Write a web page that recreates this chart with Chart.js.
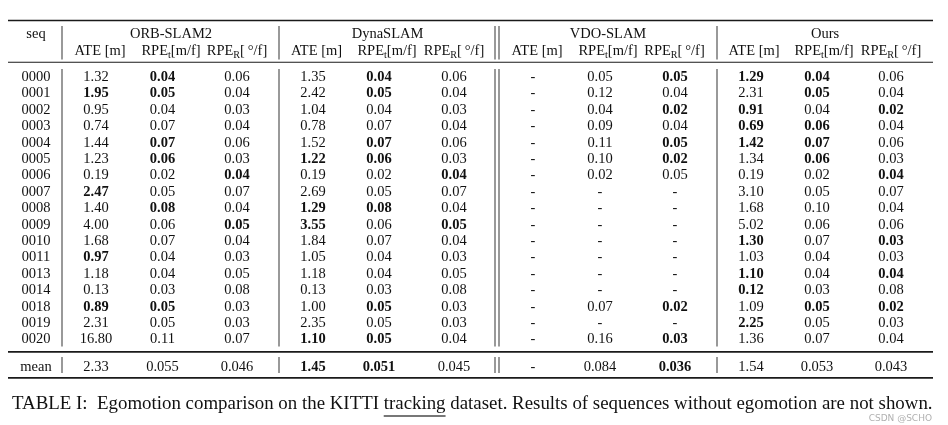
<!DOCTYPE html>
<html>
<head>
<meta charset="utf-8">
<script src="https://cdn.jsdelivr.net/npm/chart.js@4.4.0/dist/chart.umd.min.js"></script>
<style>
  html, body { margin: 0; padding: 0; background: #fff; }
  #wrap { width: 948px; height: 425px; position: relative; }
</style>
</head>
<body>
<div id="wrap"><canvas id="table"></canvas></div>
<script>
const SEQ = ['0000', '0001', '0002', '0003', '0004', '0005', '0006', '0007', '0008',
  '0009', '0010', '0011', '0013', '0014', '0018', '0019', '0020'];
const METHODS = ['ORB-SLAM2', 'DynaSLAM', 'VDO-SLAM', 'Ours'];

const ORB_ATE = ['1.32', '1.95', '0.95', '0.74', '1.44', '1.23', '0.19', '2.47', '1.40', '4.00', '1.68', '0.97', '1.18', '0.13', '0.89', '2.31', '16.80'];
const ORB_RPE_T = ['0.04', '0.05', '0.04', '0.07', '0.07', '0.06', '0.02', '0.05', '0.08', '0.06', '0.07', '0.04', '0.04', '0.03', '0.05', '0.05', '0.11'];
const ORB_RPE_R = ['0.06', '0.04', '0.03', '0.04', '0.06', '0.03', '0.04', '0.07', '0.04', '0.05', '0.04', '0.03', '0.05', '0.08', '0.03', '0.03', '0.07'];
const ORB_MEAN = ['2.33', '0.055', '0.046'];

const DYNA_ATE = ['1.35', '2.42', '1.04', '0.78', '1.52', '1.22', '0.19', '2.69', '1.29', '3.55', '1.84', '1.05', '1.18', '0.13', '1.00', '2.35', '1.10'];
const DYNA_RPE_T = ['0.04', '0.05', '0.04', '0.07', '0.07', '0.06', '0.02', '0.05', '0.08', '0.06', '0.07', '0.04', '0.04', '0.03', '0.05', '0.05', '0.05'];
const DYNA_RPE_R = ['0.06', '0.04', '0.03', '0.04', '0.06', '0.03', '0.04', '0.07', '0.04', '0.05', '0.04', '0.03', '0.05', '0.08', '0.03', '0.03', '0.04'];
const DYNA_MEAN = ['1.45', '0.051', '0.045'];

const VDO_ATE = ['-', '-', '-', '-', '-', '-', '-', '-', '-', '-', '-', '-', '-', '-', '-', '-', '-'];
const VDO_RPE_T = ['0.05', '0.12', '0.04', '0.09', '0.11', '0.10', '0.02', '-', '-', '-', '-', '-', '-', '-', '0.07', '-', '0.16'];
const VDO_RPE_R = ['0.05', '0.04', '0.02', '0.04', '0.05', '0.02', '0.05', '-', '-', '-', '-', '-', '-', '-', '0.02', '-', '0.03'];
const VDO_MEAN = ['-', '0.084', '0.036'];

const OURS_ATE = ['1.29', '2.31', '0.91', '0.69', '1.42', '1.34', '0.19', '3.10', '1.68', '5.02', '1.30', '1.03', '1.10', '0.12', '1.09', '2.25', '1.36'];
const OURS_RPE_T = ['0.04', '0.05', '0.04', '0.06', '0.07', '0.06', '0.02', '0.05', '0.10', '0.06', '0.07', '0.04', '0.04', '0.03', '0.05', '0.05', '0.07'];
const OURS_RPE_R = ['0.06', '0.04', '0.02', '0.04', '0.06', '0.03', '0.04', '0.07', '0.04', '0.06', '0.03', '0.03', '0.04', '0.08', '0.02', '0.03', '0.04'];
const OURS_MEAN = ['1.54', '0.053', '0.043'];

// bold cells: row indices per column, 17 = mean row
const ORB_BOLD = [[1, 7, 11, 14], [0, 1, 4, 5, 8, 14], [6, 9]];
const DYNA_BOLD = [[5, 8, 9, 16, 17], [0, 1, 4, 5, 8, 14, 16, 17], [6, 9]];
const VDO_BOLD = [[], [], [0, 2, 4, 5, 14, 16, 17]];
const OURS_BOLD = [[0, 2, 3, 4, 10, 12, 13, 15], [0, 1, 3, 4, 5, 14], [2, 6, 10, 12, 14]];

const CAPTION = 'TABLE I:  Egomotion comparison on the KITTI tracking dataset. Results of sequences without egomotion are not shown.';

const COLUMNS = [
  [ORB_ATE, ORB_RPE_T, ORB_RPE_R, ORB_MEAN, ORB_BOLD],
  [DYNA_ATE, DYNA_RPE_T, DYNA_RPE_R, DYNA_MEAN, DYNA_BOLD],
  [VDO_ATE, VDO_RPE_T, VDO_RPE_R, VDO_MEAN, VDO_BOLD],
  [OURS_ATE, OURS_RPE_T, OURS_RPE_R, OURS_MEAN, OURS_BOLD],
];

// --- layout (pixel units of the hidden linear scales) ---
const W = 948, H = 425;
const SERIF = '"Liberation Serif", "DejaVu Serif", serif';
const FS = 14.5;
const ROW_Y0 = 81, ROW_DY = 16.4, MEAN_Y = 370.5, HEAD1_Y = 38, HEAD2_Y = 55;
const SEQ_X = 36;
const GROUP_X = [171, 387.5, 608, 825];
const COL_X = [[96, 162.5, 237], [313, 379, 454], [533, 600, 675], [751, 817, 891]];
const HEAD_X = [[100, 171, 237], [316.5, 387, 454], [537, 608, 674.5], [754, 824, 891]];
const VLINES = [62, 279, 495, 499, 717];
const VSEGS = [[26, 59.5], [69, 346.5], [357, 373]];
const HEADERS = [
  [{ t: 'ATE [m]' }],
  [{ t: 'RPE' }, { t: 't', sub: true }, { t: '[m/f]' }],
  [{ t: 'RPE' }, { t: 'R', sub: true }, { t: '[\u2009\u00b0/f]' }],
];

function drawRich(ctx, parts, cx, y) {
  let w = 0;
  for (const p of parts) {
    ctx.font = (p.sub ? FS * 0.7 : FS) + 'px ' + SERIF;
    p.w = ctx.measureText(p.t).width;
    w += p.w;
  }
  let x = cx - w / 2;
  ctx.textAlign = 'left';
  for (const p of parts) {
    ctx.font = (p.sub ? FS * 0.7 : FS) + 'px ' + SERIF;
    ctx.fillText(p.t, x, y + (p.sub ? 3 : 0));
    x += p.w;
  }
}

const tablePlugin = {
  id: 'tablePlugin',
  afterDraw(chart) {
    const ctx = chart.ctx;
    const sx = chart.scales.x, sy = chart.scales.y;
    const px = (v) => sx.getPixelForValue(v);
    const py = (v) => sy.getPixelForValue(v);
    ctx.save();
    ctx.fillStyle = '#111';
    ctx.textBaseline = 'alphabetic';

    // horizontal rules
    ctx.strokeStyle = '#1a1a1a';
    const hrule = (y, lw) => {
      ctx.lineWidth = lw;
      ctx.beginPath();
      ctx.moveTo(px(8), py(y));
      ctx.lineTo(px(933), py(y));
      ctx.stroke();
    };
    hrule(20.5, 1.6);
    hrule(62.3, 1.1);
    hrule(351.8, 1.8);
    hrule(377.8, 1.8);

    // vertical separators
    ctx.strokeStyle = '#555';
    ctx.lineWidth = 1.2;
    for (const x of VLINES) {
      for (const [a, b] of VSEGS) {
        ctx.beginPath();
        ctx.moveTo(px(x), py(a));
        ctx.lineTo(px(x), py(b));
        ctx.stroke();
      }
    }

    // header
    ctx.textAlign = 'center';
    ctx.font = FS + 'px ' + SERIF;
    ctx.fillText('seq', px(SEQ_X), py(HEAD1_Y));
    METHODS.forEach((m, g) => {
      ctx.textAlign = 'center';
      ctx.font = FS + 'px ' + SERIF;
      ctx.fillText(m, px(GROUP_X[g]), py(HEAD1_Y - 0.5));
      HEADERS.forEach((parts, c) => drawRich(ctx, parts, px(HEAD_X[g][c]), py(HEAD2_Y)));
    });

    // body
    ctx.textAlign = 'center';
    SEQ.forEach((s, r) => {
      ctx.font = FS + 'px ' + SERIF;
      ctx.fillText(s, px(SEQ_X), py(ROW_Y0 + r * ROW_DY));
    });
    ctx.font = FS + 'px ' + SERIF;
    ctx.fillText('mean', px(SEQ_X), py(MEAN_Y));
    COLUMNS.forEach((col, g) => {
      const bold = col[4];
      for (let c = 0; c < 3; c++) {
        const vals = col[c];
        vals.forEach((v, r) => {
          ctx.font = (bold[c].includes(r) ? 'bold ' : '') + FS + 'px ' + SERIF;
          ctx.fillText(v, px(COL_X[g][c]), py(ROW_Y0 + r * ROW_DY));
        });
        ctx.font = (bold[c].includes(17) ? 'bold ' : '') + FS + 'px ' + SERIF;
        ctx.fillText(col[3][c], px(COL_X[g][c]), py(MEAN_Y));
      }
    });

    // caption, fitted to the table width
    ctx.textAlign = 'left';
    ctx.font = '17px ' + SERIF;
    const cw = ctx.measureText(CAPTION).width;
    const cfs = 17 * (933 - 12) / cw;
    ctx.font = cfs + 'px ' + SERIF;
    ctx.fillText(CAPTION, px(12), py(409));
    const pre = CAPTION.slice(0, CAPTION.indexOf('tracking'));
    const ux0 = 12 + ctx.measureText(pre).width;
    const uw = ctx.measureText('tracking').width;
    ctx.strokeStyle = '#777';
    ctx.lineWidth = 2;
    ctx.beginPath();
    ctx.moveTo(px(ux0), py(416));
    ctx.lineTo(px(ux0 + uw), py(416));
    ctx.stroke();

    // watermark
    ctx.textAlign = 'right';
    ctx.fillStyle = '#b0b0b0';
    ctx.font = '9px "DejaVu Sans", sans-serif';
    ctx.fillText('CSDN @SCHO', px(932), py(420.5));
    ctx.restore();
  },
};

new Chart(document.getElementById('table'), {
  type: 'scatter',
  data: { datasets: [{ data: [], pointRadius: 0 }] },
  options: {
    responsive: true,
    maintainAspectRatio: false,
    animation: false,
    layout: { padding: 0 },
    plugins: { legend: { display: false }, tooltip: { enabled: false } },
    scales: {
      x: { type: 'linear', min: 0, max: W, display: false },
      y: { type: 'linear', min: 0, max: H, reverse: true, display: false },
    },
  },
  plugins: [tablePlugin],
});
</script>
</body>
</html>
